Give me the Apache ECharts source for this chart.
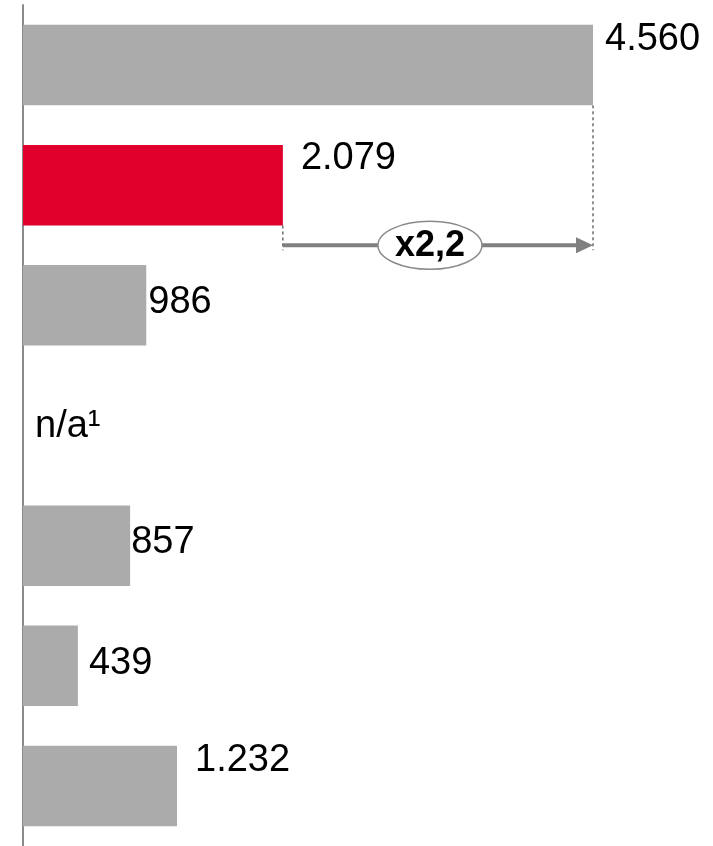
<!DOCTYPE html>
<html>
<head>
<meta charset="utf-8">
<script src="https://cdn.jsdelivr.net/npm/echarts@6/dist/echarts.min.js"></script>
<style>
html,body{margin:0;padding:0;background:#fff;}
#main{width:713px;height:846px;}
</style>
</head>
<body>
<div id="main"></div>
<script>
// Data
var categories = ['c1', 'c2', 'c3', 'c4', 'c5', 'c6', 'c7'];
var values = [4560, 2079, 986, null, 857, 439, 1232];
var highlightIndex = 1;
var naLabel = 'n/a\u00B9';
var ratioLabel = 'x2,2';
var ratioFrom = 1; // index of the smaller bar
var ratioTo = 0;   // index of the larger bar

// per-label offsets (style)
var labelDist = [12, 18, 2, 12, 1, 11, 18];
var labelDy = [-26, -27, -3, 1, -3, -2, -25];

function fmt(v) {
  return String(v).replace(/\B(?=(\d{3})+(?!\d))/g, '.');
}

var chart = echarts.init(document.getElementById('main'), null, {renderer: 'canvas'});

var seriesData = values.map(function (v, i) {
  return {
    value: v === null ? 0 : v,
    itemStyle: {color: i === highlightIndex ? '#e0002b' : '#ababab'},
    label: {
      distance: labelDist[i],
      offset: [0, labelDy[i]],
      formatter: v === null ? naLabel : fmt(v)
    }
  };
});

chart.setOption({
  animation: false,
  grid: {left: 23, top: 5, width: 570, height: 846, containLabel: false},
  xAxis: {type: 'value', min: 0, max: 4560, show: false},
  yAxis: {
    type: 'category', data: categories, inverse: true,
    axisLine: {show: true, lineStyle: {color: '#8a8a8a', width: 2}},
    axisTick: {show: false}, axisLabel: {show: false}
  },
  series: [{
    type: 'bar',
    data: seriesData,
    barCategoryGap: '33%',
    label: {
      show: true, position: 'right',
      color: '#000', fontSize: 38,
      fontFamily: 'Liberation Sans, Arial, sans-serif'
    }
  }]
});

// Ratio annotation built from the chart's scales
var pFrom = chart.convertToPixel({gridIndex: 0}, [values[ratioFrom], ratioFrom]);
var pTo = chart.convertToPixel({gridIndex: 0}, [values[ratioTo], ratioTo]);
var band = chart.convertToPixel({gridIndex: 0}, [0, ratioFrom + 1])[1] - pFrom[1];
var barHalf = band * 0.67 / 2;
var yArrow = pFrom[1] + band * 0.5;
var x1 = pFrom[0], x2 = pTo[0];
var topFrom = pFrom[1] + barHalf;
var topTo = pTo[1] + barHalf;
var cx = (x1 + x2) / 2 - 8;

chart.setOption({
  graphic: [
    {type: 'line', shape: {x1: x1, y1: topFrom, x2: x1, y2: yArrow + 5},
      style: {stroke: '#222', lineWidth: 1, lineDash: [3, 3]}},
    {type: 'line', shape: {x1: x2, y1: topTo, x2: x2, y2: yArrow + 5},
      style: {stroke: '#222', lineWidth: 1, lineDash: [3, 3]}},
    {type: 'line', shape: {x1: x1, y1: yArrow, x2: x2 - 15, y2: yArrow},
      style: {stroke: '#808080', lineWidth: 4}},
    {type: 'polygon', shape: {points: [[x2 - 17, yArrow - 8], [x2, yArrow], [x2 - 17, yArrow + 8]]},
      style: {fill: '#808080'}},
    {type: 'ellipse', shape: {cx: cx, cy: yArrow, rx: 52, ry: 24},
      style: {fill: '#fff', stroke: '#8a8a8a', lineWidth: 1.5}},
    {type: 'text', x: cx, y: yArrow + 1,
      style: {text: ratioLabel, fill: '#000', font: 'bold 36px "Liberation Sans", Arial, sans-serif',
        align: 'center', verticalAlign: 'middle'}}
  ]
});
</script>
</body>
</html>
